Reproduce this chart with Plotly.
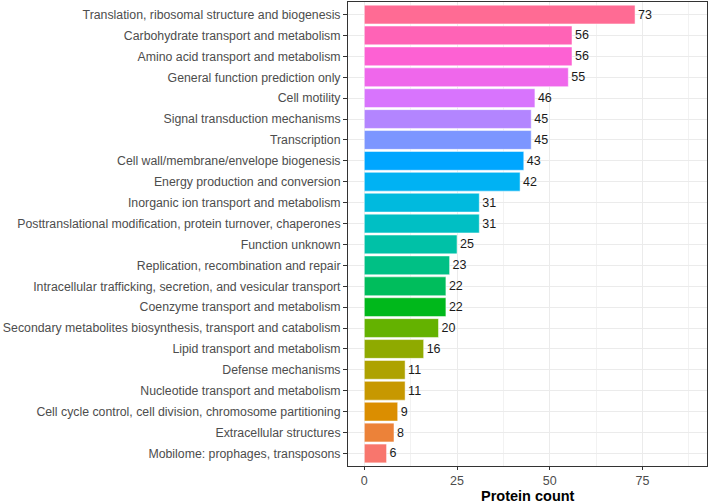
import math
import plotly.graph_objects as go

# Data (top to bottom as displayed)
categories = [
    "Translation, ribosomal structure and biogenesis",
    "Carbohydrate transport and metabolism",
    "Amino acid transport and metabolism",
    "General function prediction only",
    "Cell motility",
    "Signal transduction mechanisms",
    "Transcription",
    "Cell wall/membrane/envelope biogenesis",
    "Energy production and conversion",
    "Inorganic ion transport and metabolism",
    "Posttranslational modification, protein turnover, chaperones",
    "Function unknown",
    "Replication, recombination and repair",
    "Intracellular trafficking, secretion, and vesicular transport",
    "Coenzyme transport and metabolism",
    "Secondary metabolites biosynthesis, transport and catabolism",
    "Lipid transport and metabolism",
    "Defense mechanisms",
    "Nucleotide transport and metabolism",
    "Cell cycle control, cell division, chromosome partitioning",
    "Extracellular structures",
    "Mobilome: prophages, transposons",
]
counts = [73, 56, 56, 55, 46, 45, 45, 43, 42, 31, 31, 25, 23, 22, 22, 20, 16, 11, 11, 9, 8, 6]
x_ticks = [0, 25, 50, 75]
x_title = "Protein count"

FONT = "Liberation Sans, Arial, Helvetica, sans-serif"


def hcl_to_hex(h, c=100.0, l=65.0):
    # polar LUV -> sRGB (like R's hcl())
    Xn, Yn, Zn = 95.047, 100.0, 108.883
    un = 4 * Xn / (Xn + 15 * Yn + 3 * Zn)
    vn = 9 * Yn / (Xn + 15 * Yn + 3 * Zn)
    hr = math.radians(h)
    u = c * math.cos(hr)
    v = c * math.sin(hr)
    Y = Yn * (((l + 16) / 116) ** 3 if l > 8 else l / 903.3)
    up = u / (13 * l) + un
    vp = v / (13 * l) + vn
    X = 9.0 * Y * up / (4 * vp)
    Z = -X / 3 - 5 * Y + 3 * Y / vp
    X, Y, Z = X / 100, Y / 100, Z / 100
    r = 3.240479 * X - 1.537150 * Y - 0.498535 * Z
    g = -0.969256 * X + 1.875992 * Y + 0.041556 * Z
    b = 0.055648 * X - 0.204043 * Y + 1.057311 * Z

    def gam(t):
        t = 12.92 * t if t <= 0.0031308 else 1.055 * t ** (1 / 2.4) - 0.055
        return max(0, min(255, round(t * 255)))

    return "#%02X%02X%02X" % (gam(r), gam(g), gam(b))


n = len(categories)
hues = [15 + 360 * i / n for i in range(n)]
pal = [hcl_to_hex(h) for h in hues]
# first level (bottom bar) gets first colour
colors = list(reversed(pal))

fig = go.Figure(
    go.Bar(
        x=counts,
        y=categories,
        orientation="h",
        marker=dict(color=colors, line=dict(width=0.5, color="white")),
        width=0.9,
        text=[str(v) for v in counts],
        textposition="outside",
        textfont=dict(size=12.5, color="#1A1A1A", family=FONT),
        cliponaxis=False,
        showlegend=False,
    )
)

fig.update_layout(
    width=709,
    height=504,
    margin=dict(l=348, r=2, t=2, b=38),
    paper_bgcolor="white",
    plot_bgcolor="white",
    font=dict(family=FONT, size=12.5, color="#4D4D4D"),
    bargap=0.1,
    annotations=[
        dict(
            text="<b>%s</b>" % x_title,
            xref="paper", yref="paper",
            x=0.5, y=0, yshift=-20.5,
            xanchor="center", yanchor="top",
            showarrow=False,
            borderpad=0,
            font=dict(size=14.5, color="black", family=FONT),
        )
    ],
)

fig.update_xaxes(
    range=[-4.4, 92.4],
    tickvals=x_ticks,
    ticktext=[str(t) for t in x_ticks],
    ticks="outside",
    ticklen=3,
    tickcolor="#333333",
    tickfont=dict(size=12.5, color="#4D4D4D"),
    showgrid=True,
    gridcolor="#EBEBEB",
    gridwidth=1,
    minor=dict(tickvals=[12.5, 37.5, 62.5, 87.5], showgrid=True, gridcolor="#F2F2F2", gridwidth=0.6),
    zeroline=False,
    showline=True,
    linecolor="#333333",
    linewidth=1,
    mirror=True,
    automargin=False,
)

fig.update_yaxes(
    categoryorder="array",
    categoryarray=list(reversed(categories)),
    range=[-0.6, n - 0.4],
    ticks="outside",
    ticklen=4,
    tickcolor="#333333",
    tickfont=dict(size=12.3, color="#4D4D4D"),
    showgrid=True,
    gridcolor="#EBEBEB",
    gridwidth=1,
    zeroline=False,
    showline=True,
    linecolor="#333333",
    linewidth=1,
    mirror=True,
    automargin=False,
)

fig.write_html(
    "out.html",
    config={"displayModeBar": False},
    post_script="document.body.style.margin='0px';",
)
